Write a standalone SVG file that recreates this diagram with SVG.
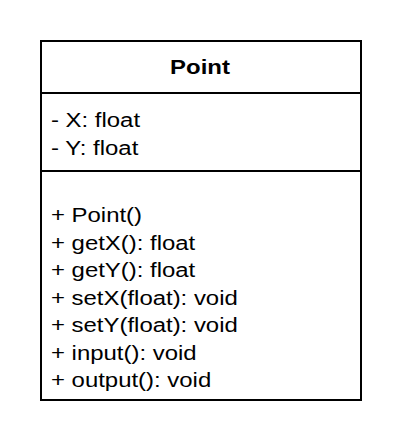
<svg xmlns="http://www.w3.org/2000/svg" width="402" height="448" viewBox="0 0 402 448">
<style>
.box{fill:#ffffff;stroke:#000000;stroke-width:2}
.sep{stroke:#000000;stroke-width:2}
.t{font-family:"Liberation Sans",Arial,sans-serif;font-size:21px;fill:#000000}
.h{font-family:"Liberation Sans",Arial,sans-serif;font-size:21px;font-weight:bold;fill:#000000}
</style>
<rect width="402" height="448" fill="#ffffff"/>
<g id="Point">
<rect class="box" x="41" y="41" width="320" height="359"/>
<line class="sep" x1="41" y1="93" x2="361" y2="93"/>
<line class="sep" x1="41" y1="171" x2="361" y2="171"/>
<g transform="matrix(1.14,0,0,1,-28,0)">
<text class="h" x="200" y="74.5" text-anchor="middle">Point</text>
</g>
<g transform="matrix(1.14,0,0,1,-7.14,0)">
<text class="t" x="51" y="127">- X: float</text>
<text class="t" x="51" y="155">- Y: float</text>
<text class="t" x="51" y="222.5">+ Point()</text>
<text class="t" x="51" y="250">+ getX(): float</text>
<text class="t" x="51" y="277.5">+ getY(): float</text>
<text class="t" x="51" y="305">+ setX(float): void</text>
<text class="t" x="51" y="332.5">+ setY(float): void</text>
<text class="t" x="51" y="360">+ input(): void</text>
<text class="t" x="51" y="387.5">+ output(): void</text>
</g>
</g>
<g id="connectors"></g>
</svg>
